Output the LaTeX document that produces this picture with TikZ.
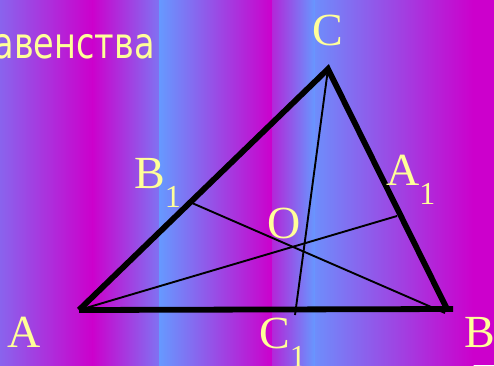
\documentclass[tikz,border=0pt]{standalone}
\usepackage{fontspec}
\setmainfont{Liberation Serif}
\newfontfamily\rusfont{DejaVu Sans}
\definecolor{blu}{HTML}{6699FF}
\definecolor{mag}{HTML}{CC00CC}
\definecolor{lab}{HTML}{FFFF99}
\newcommand\subone{\raisebox{-19pt}{\fontsize{32}{32}\selectfont 1}}
\tikzset{
  lbl/.style={text=lab, font=\fontsize{46}{46}\selectfont, inner sep=0pt, anchor=base west},
  side/.style={line width=5.8pt, line join=miter},
  cevian/.style={line width=1.9pt}
}
\begin{document}
\begin{tikzpicture}[x=1pt,y=-1pt]
\useasboundingbox (0,0) rectangle (494,365);
\clip (0,0) rectangle (494,365);
% background stripes
\shade[left color=blu!65!mag, right color=mag] (0,0) rectangle (92.5,365);
\shade[left color=mag, right color=blu!75!mag] (92,0) rectangle (159.5,365);
\shade[left color=blu, right color=mag] (159,0) rectangle (272.5,365);
\shade[left color=mag!75!blu, right color=blu] (272,0) rectangle (315.5,365);
\shade[left color=blu!92!mag, right color=mag] (315,0) rectangle (473.5,365);
\fill[mag] (473,0) rectangle (494,365);
% title fragment
\node[anchor=base east, inner sep=0pt, text=lab] (title) at (155,58)
  {\scalebox{0.78}[1]{\rusfont\fontsize{43}{43}\selectfont авенства}};
% points
\coordinate (A) at (79,310);
\coordinate (B) at (447,309);
\coordinate (C) at (328,69);
\coordinate (Bx) at (453,309);
\coordinate (Bc) at (445,313);
\coordinate (A1) at (397,216);
\coordinate (B1) at (192,203);
\coordinate (C1) at (295,315);
% triangle
\draw[side] (A) -- (C) -- (B);
\draw[side] (A) -- (Bx);
% cevians
\draw[cevian] (A) -- (A1);
\draw[cevian] (B1) -- (Bc);
\draw[cevian] (C) -- (C1);
% labels
\node[lbl] (lC) at (312,45) {C};
\node[lbl] (lB1) at (134,188) {B\subone};
\node[lbl] (lA1) at (386,185) {A\subone};
\node[lbl] (lO) at (267,238) {O};
\node[lbl] (lA) at (7,347) {A};
\node[lbl] (lC1) at (259,348) {C\subone};
\node[lbl] (lB) at (464,347) {B};
\end{tikzpicture}
\end{document}
